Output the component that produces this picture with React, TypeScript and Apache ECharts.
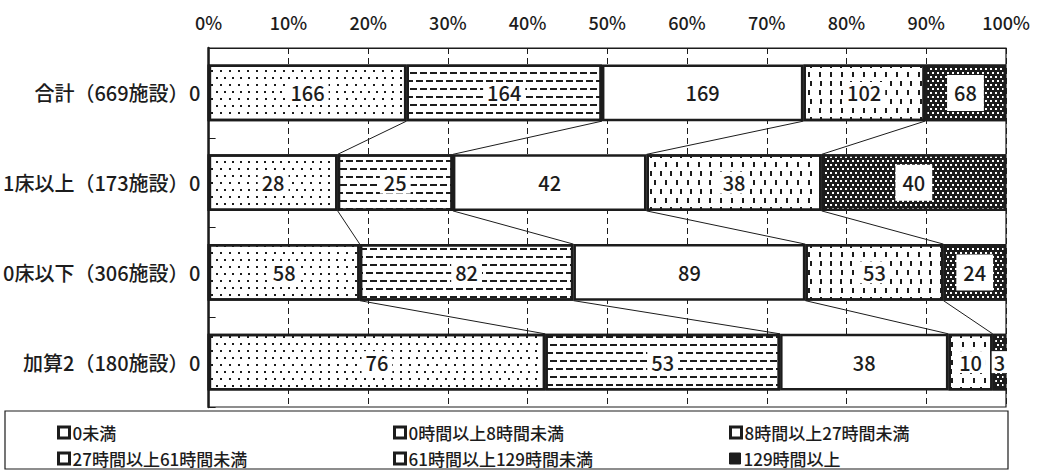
import React, { useEffect, useRef } from 'react';
import * as echarts from 'echarts';

const categories = ['合計（669施設）', '1床以上（173施設）', '0床以下（306施設）', '加算2（180施設）'];
const seriesNames = ['0未満', '0時間以上8時間未満', '8時間以上27時間未満', '27時間以上61時間未満', '61時間以上129時間未満', '129時間以上'];
const under0 = [0, 0, 0, 0];
const h0to8 = [166, 28, 58, 76];
const h8to27 = [164, 25, 82, 53];
const h27to61 = [169, 42, 89, 38];
const h61to129 = [102, 38, 53, 10];
const h129plus = [68, 40, 24, 3];
const xTickValues = [0, 10, 20, 30, 40, 50, 60, 70, 80, 90, 100];

const counts = [under0, h0to8, h8to27, h27to61, h61to129, h129plus];
const totals = categories.map((_, i) => counts.reduce((s, arr) => s + arr[i], 0));
const pct = counts.map(arr => arr.map((v, i) => (v / totals[i]) * 100));

const FONT = '"Noto Sans CJK JP", "Noto Sans", sans-serif';
const BAR_FRAC = 0.63;
const INK = '#1c1c1c';

const decals: any[] = [
  undefined,
  { symbol: 'rect', symbolSize: 1, color: INK, dashArrayX: [[1.4, 5.6], [0, 3.5, 1.4, 2.1]], dashArrayY: [1.4, 4.6] },
  { symbol: 'rect', symbolSize: 1, color: INK, dashArrayX: [[7, 3], [3, 3, 4, 0]], dashArrayY: [1.4, 5.6] },
  undefined,
  { symbol: 'rect', symbolSize: 1, color: INK, dashArrayX: [[1.5, 8], [0, 4.5, 1.5, 3.5]], dashArrayY: [5, 4] },
  { symbol: 'rect', symbolSize: 1, color: '#ffffff', dashArrayX: [[1.2, 2.8], [0, 2, 1.2, 0.8]], dashArrayY: [1.2, 1.8] },
];
const fills = ['#ffffff', '#ffffff', '#ffffff', '#ffffff', '#ffffff', INK];

// connector lines between adjacent bars (from segment boundaries)
const connectorData: number[][] = [];
for (let i = 0; i < categories.length - 1; i++) {
  let c1 = 0;
  let c2 = 0;
  for (let k = 0; k < counts.length - 1; k++) {
    c1 += pct[k][i];
    c2 += pct[k][i + 1];
    if (k >= 1) connectorData.push([c1, i, c2, i + 1]);
  }
}

export default function App() {
  const ref = useRef<HTMLDivElement>(null);
  useEffect(() => {
    if (!ref.current) return;
    const chart = echarts.init(ref.current, null, { renderer: 'svg' });
    const barSeries = seriesNames.map((name, s) => ({
      name,
      type: 'bar',
      stack: 'total',
      barWidth: BAR_FRAC * 100 + '%',
      z: 3,
      itemStyle: {
        color: fills[s],
        borderColor: INK,
        borderWidth: 2.5,
        decal: decals[s],
      },
      label: {
        show: true,
        position: s === 0 ? 'left' : 'inside',
        distance: 3,
        fontFamily: FONT,
        fontSize: 20,
        fontWeight: 500,
        color: INK,
        backgroundColor: s === 0 ? 'transparent' : '#ffffff',
        padding: s === 5 ? [8, 7] : [1, 4],
        formatter: (p: any) => String(counts[s][p.dataIndex]),
      },
      data: pct[s].map((v, i) =>
        s === 5 && v < 3
          ? { value: v, label: { padding: [1, 2] } }
          : v
      ),
    }));

    const colLeft = [57, 393, 729];
    const rowTop = [424, 450];
    const legends = seriesNames.map((name, s) => ({
      data: [
        {
          name,
          itemStyle: {
            color: s === 5 ? INK : '#ffffff',
            borderColor: INK,
            borderWidth: s === 5 ? 1 : 3,
            decal: 'none',
          },
        },
      ],
      left: colLeft[s % 3],
      top: rowTop[Math.floor(s / 3)],
      padding: 0,
      itemGap: 0,
      itemWidth: 11,
      itemHeight: 11,
      icon: 'rect',
      selectedMode: false,
      textStyle: { fontSize: 17, fontWeight: 500, color: INK, fontFamily: FONT, padding: [0, 0, 0, -2] },
    }));

    chart.setOption({
      animation: false,
      textStyle: { fontFamily: FONT },
      grid: {
        left: 205,
        right: 33,
        top: 48,
        bottom: 65,
        show: true,
        borderColor: INK,
        borderWidth: 1.2,
        backgroundColor: 'transparent',
      },
      xAxis: {
        type: 'value',
        position: 'top',
        min: 0,
        max: 100,
        interval: 10,
        axisLine: { show: true, lineStyle: { color: INK, width: 1.2 } },
        axisTick: { show: false },
        axisLabel: {
          margin: 17,
          fontSize: 18,
          fontWeight: 500,
          color: INK,
          fontFamily: FONT,
          formatter: (v: number) => (xTickValues.includes(v) ? v + '%' : ''),
        },
        splitLine: { show: true, lineStyle: { color: INK, width: 1, type: [6, 4] } },
      },
      yAxis: {
        type: 'category',
        inverse: true,
        data: categories,
        axisLine: { show: true, lineStyle: { color: INK, width: 2.5 } },
        axisTick: { show: true, inside: true, length: 7, lineStyle: { color: INK, width: 1 } },
        axisLabel: { margin: 20, fontSize: 20, fontWeight: 500, color: INK, fontFamily: FONT },
      },
      legend: legends,
      graphic: [
        {
          type: 'rect',
          shape: { x: 5, y: 411, width: 1003, height: 58 },
          style: { fill: 'transparent', stroke: INK, lineWidth: 1.2 },
          z: 0,
        },
      ],
      series: [
        ...barSeries,
        {
          name: 'connectors',
          type: 'custom',
          z: 2,
          silent: true,
          encode: { x: [0, 2], y: [1, 3] },
          data: connectorData,
          renderItem: (params: any, api: any) => {
            const p1 = api.coord([api.value(0), api.value(1)]);
            const p2 = api.coord([api.value(2), api.value(3)]);
            const band = api.size([0, 1])[1];
            const half = (band * BAR_FRAC) / 2;
            return {
              type: 'line',
              shape: { x1: p1[0], y1: p1[1] + half, x2: p2[0], y2: p2[1] - half },
              style: { stroke: INK, lineWidth: 1 },
            };
          },
        },
      ],
    });
    return () => chart.dispose();
  }, []);
  return <div ref={ref} style={{ position: 'fixed', left: 0, top: 0, width: 1039, height: 472, background: '#fff' }} />;
}
